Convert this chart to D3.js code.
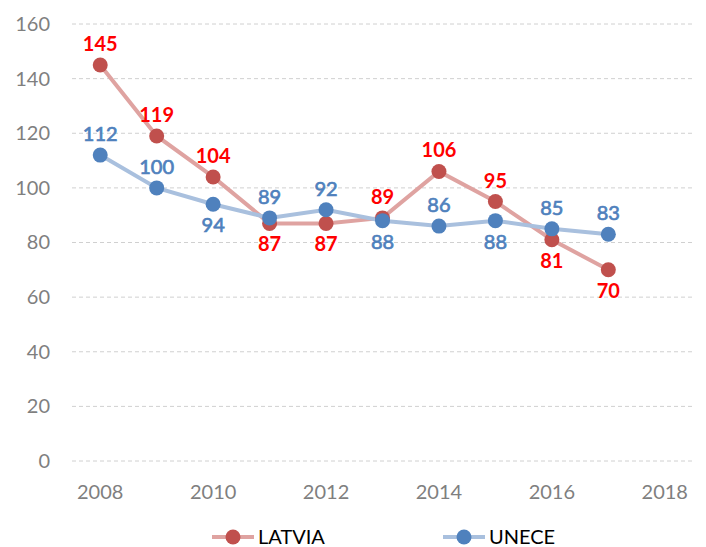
<!DOCTYPE html>
<html>
<head>
<meta charset="utf-8">
<script src="https://cdn.jsdelivr.net/npm/d3@7"></script>
<style>
  body { margin: 0; background: #fff; }
  svg { font-family: Lato, "Liberation Sans", sans-serif; }
</style>
</head>
<body>
<div id="chart"></div>
<script>
// years on the category axis (2018 has no data)
const years = [2008, 2009, 2010, 2011, 2012, 2013, 2014, 2015, 2016, 2017, 2018];
const tickYears = [2008, 2010, 2012, 2014, 2016, 2018];
const yTicks = [0, 20, 40, 60, 80, 100, 120, 140, 160];

const latvia = [145, 119, 104, 87, 87, 89, 106, 95, 81, 70];
const unece = [112, 100, 94, 89, 92, 88, 86, 88, 85, 83];

// where the data label sits: 1 = above the point, -1 = below
const latviaLabelPos = [1, 1, 1, -1, -1, 1, 1, 1, -1, -1];
const uneceLabelPos = [1, 1, -1, 1, 1, -1, 1, -1, 1, 1];

const size = { width: 706, height: 547 };
const margin = { left: 72, right: 13, top: 24, bottom: 86 };

const svg = d3.select("#chart")
  .append("svg")
  .attr("width", size.width)
  .attr("height", size.height);

const x = d3.scaleBand()
  .domain(years)
  .range([margin.left, size.width - margin.right]);

const cx = (yr) => x(yr) + x.bandwidth() / 2;

const y = d3.scaleLinear()
  .domain([0, 160])
  .range([size.height - margin.bottom, margin.top]);

// dashed gridlines
svg.append("g")
  .selectAll("line")
  .data(yTicks)
  .join("line")
  .attr("x1", margin.left)
  .attr("x2", size.width - margin.right)
  .attr("y1", (d) => y(d))
  .attr("y2", (d) => y(d))
  .attr("stroke", "#d0d0d0")
  .attr("stroke-width", 1)
  .attr("stroke-dasharray", "4,3");

// y axis labels
const yAxis = svg.append("g")
  .attr("transform", `translate(${margin.left - 8},0)`)
  .call(d3.axisLeft(y).tickValues(yTicks).tickSize(0).tickPadding(14));
yAxis.select(".domain").remove();
yAxis.selectAll("text")
  .attr("fill", "#7f7f7f")
  .style("font-size", "20px")
  .style("font-family", "Lato, sans-serif");

// x axis labels
const xAxis = svg.append("g")
  .attr("transform", `translate(0,${size.height - margin.bottom})`)
  .call(d3.axisBottom(x).tickValues(tickYears).tickSize(0).tickPadding(24));
xAxis.select(".domain").remove();
xAxis.selectAll("text")
  .attr("fill", "#7f7f7f")
  .style("font-size", "20px")
  .style("font-family", "Lato, sans-serif");

const series = [
  { name: "LATVIA", values: latvia, pos: latviaLabelPos, line: "#dfa3a1", dot: "#c0504d", label: "#ff0000", weight: "bold", thick: 0 },
  { name: "UNECE", values: unece, pos: uneceLabelPos, line: "#a9c0de", dot: "#4f81bd", label: "#4f81bd", weight: "normal", thick: 0.7 },
];

const line = d3.line()
  .x((d, i) => cx(years[i]))
  .y((d) => y(d));

// latvia first, unece on top (as in the picture)
series.forEach((s) => {
  svg.append("path")
    .datum(s.values)
    .attr("fill", "none")
    .attr("stroke", s.line)
    .attr("stroke-width", 4)
    .attr("d", line);
});

series.forEach((s) => {
  svg.append("g")
    .selectAll("circle")
    .data(s.values)
    .join("circle")
    .attr("cx", (d, i) => cx(years[i]))
    .attr("cy", (d) => y(d))
    .attr("r", 7.5)
    .attr("fill", s.dot);
});

// data labels; the blue ones get a thin stroke to look semi-bold
series.forEach((s) => {
  svg.append("g")
    .selectAll("text")
    .data(s.values)
    .join("text")
    .attr("x", (d, i) => cx(years[i]))
    .attr("y", (d, i) => y(d) + (s.pos[i] > 0 ? -14 : 28))
    .attr("text-anchor", "middle")
    .attr("fill", s.label)
    .attr("stroke", s.thick ? s.label : "none")
    .attr("stroke-width", s.thick)
    .style("font-size", "20px")
    .style("font-weight", s.weight)
    .text((d) => d);
});

// legend
const legend = svg.append("g").attr("transform", "translate(0,537)");
const legendX = [212, 443];
series.forEach((s, i) => {
  const g = legend.append("g").attr("transform", `translate(${legendX[i]},0)`);
  g.append("line")
    .attr("x1", 0).attr("x2", 42)
    .attr("stroke", s.line)
    .attr("stroke-width", 4);
  g.append("circle")
    .attr("cx", 21)
    .attr("r", 7.5)
    .attr("fill", s.dot);
  g.append("text")
    .attr("x", 46)
    .attr("dy", "0.35em")
    .attr("fill", "#000")
    .style("font-size", "20px")
    .text(s.name);
});
</script>
</body>
</html>
